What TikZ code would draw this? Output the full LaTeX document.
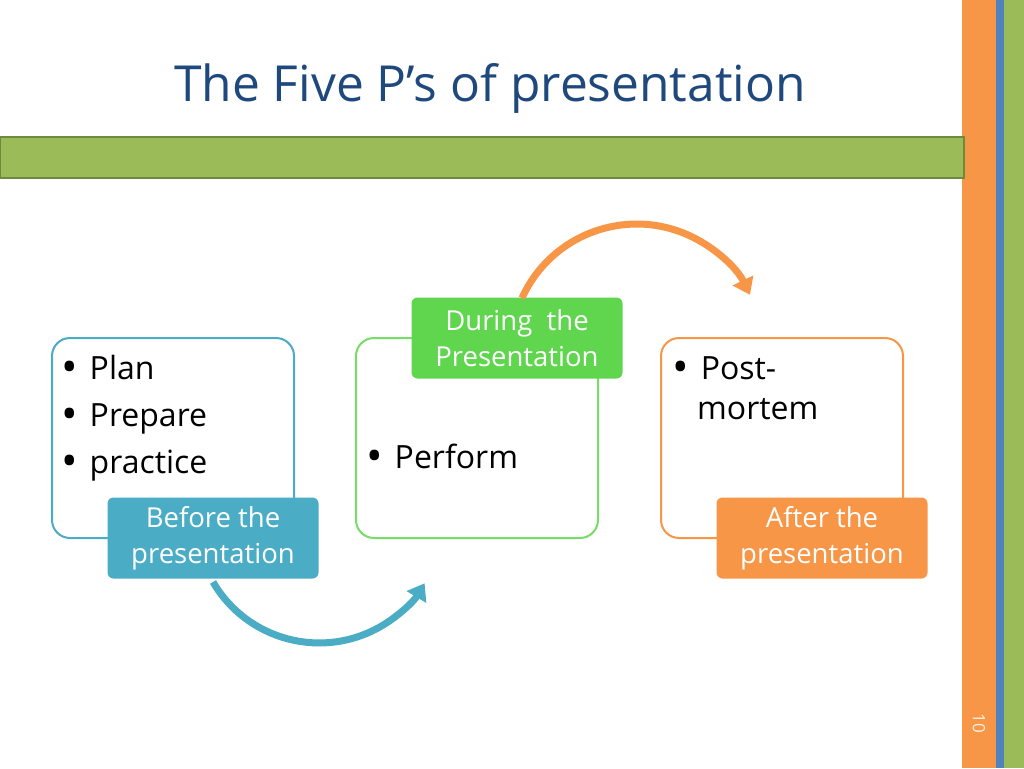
\documentclass[tikz,border=0pt]{standalone}
\usepackage{fontspec}
\setmainfont{Open Sans}
\usetikzlibrary{arrows.meta}
\definecolor{titleblue}{HTML}{1F497D}
\definecolor{bandgreen}{HTML}{9BBB59}
\definecolor{bandborder}{HTML}{71893F}
\definecolor{barorange}{HTML}{F79646}
\definecolor{barblue}{HTML}{4F81BD}
\definecolor{cblue}{HTML}{4BACC6}
\definecolor{cgreen}{HTML}{5FD64E}
\definecolor{cgreenline}{HTML}{77DD66}
\definecolor{corange}{HTML}{F79646}
\definecolor{numcol}{HTML}{FEF0E4}
\newcommand{\bul}{{\fontsize{44}{40}\selectfont\raisebox{-3.5pt}{•}}}
\begin{document}
\begin{tikzpicture}[x=1pt,y=-1pt,
  box/.style={draw, line width=2pt, rounded corners=18pt, minimum width=242pt, minimum height=200pt, inner sep=0pt},
  lbl/.style={rounded corners=6pt, minimum width=211pt, minimum height=81pt, inner sep=0pt, align=center, text=white, font=\fontsize{27.5}{36}\selectfont},
  body/.style={anchor=base west, inner sep=0pt, font=\fontsize{32}{40}\selectfont},
  arc/.style={line width=7pt, -{Triangle[length=16pt,width=22pt]}}]
\useasboundingbox (0,0) rectangle (1024,768);
\fill[white] (0,0) rectangle (1024,768);
% right bars
\fill[barorange] (962,0) rectangle (996,768);
\fill[barblue] (996,0) rectangle (1004,768);
\fill[bandgreen] (1004,0) rectangle (1024,768);
% title
\node[text=titleblue, font=\fontsize{49.7}{56}\selectfont, inner sep=0pt, anchor=base] (title) at (490,101) {The Five P’s of presentation};
% band
\draw[draw=bandborder, fill=bandgreen, line width=2.5pt] (0,137) rectangle (964,178);
% boxes
\node[box, draw=cblue] (b1) at (173,438) {};
\node[box, draw=cgreenline] (b2) at (477,438) {};
\node[box, draw=corange] (b3) at (782,438) {};
% labels
\node[lbl, fill=cblue] (l1) at (213,538) {Before the\\presentation};
\node[lbl, fill=cgreen] (l2) at (517,338) {During\ \ the\\Presentation};
\node[lbl, fill=corange] (l3) at (822,538) {After the\\presentation};
% body texts
\node[body] (t1) at (61,379) {\bul\hspace{12pt}Plan};
\node[body] (t2) at (61,426) {\bul\hspace{12pt}Prepare};
\node[body] (t3) at (61,473) {\bul\hspace{12pt}practice};
\node[body] (t4) at (366,468) {\bul\hspace{12pt}Perform};
\node[body] (t5) at (672,379) {\bul\hspace{12pt}Post-};
\node[body] (t6) at (697,419) {mortem};
% arrows
\coordinate (a1s) at (213,582);
\coordinate (a2s) at (522,298);
\draw[arc, cblue] (a1s) arc[start angle=149.7, end angle=31, radius=123];
\draw[arc, corange] (a2s) arc[start angle=204.4, end angle=334, radius=126];
% page number
\node[text=numcol, rotate=-90, font=\fontsize{17}{20}\selectfont, inner sep=0pt] (pg) at (979,723) {10};
\end{tikzpicture}
\end{document}
